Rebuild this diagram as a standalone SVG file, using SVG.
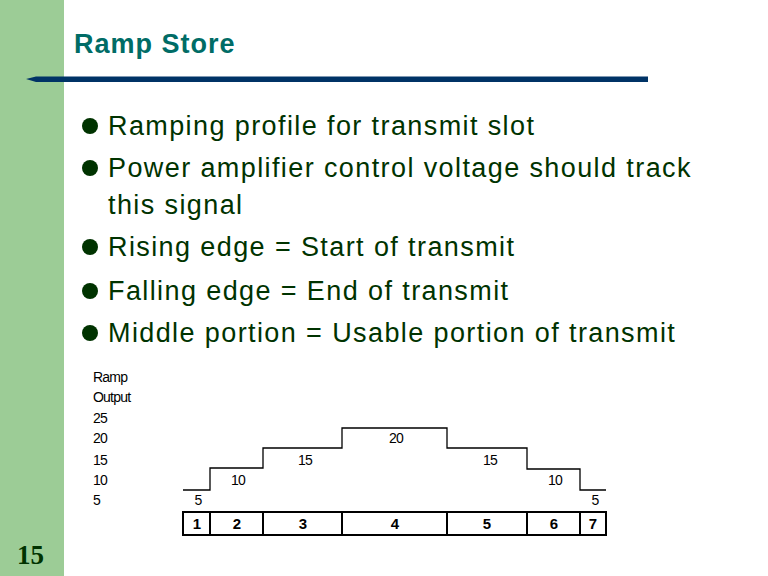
<svg xmlns="http://www.w3.org/2000/svg" width="768" height="576" viewBox="0 0 768 576">
<style>
.b{font-family:"Liberation Sans",Arial,sans-serif;font-size:27px;fill:#003300;letter-spacing:1.4px}
.s{font-family:"Liberation Sans",Arial,sans-serif;font-size:14px;fill:#000;letter-spacing:-0.8px}
.c{font-family:"Liberation Sans",Arial,sans-serif;font-size:14px;fill:#000;text-anchor:middle;letter-spacing:-0.8px}
.n{font-family:"Liberation Sans",Arial,sans-serif;font-size:15px;font-weight:bold;fill:#000;text-anchor:middle}
.dot{fill:#003300}
</style>
<rect width="768" height="576" fill="#fff"/>
<rect x="0" y="0" width="64" height="576" fill="#9ccc96"/>
<text x="74" y="53" font-family="Liberation Sans, Arial, sans-serif" font-size="27" font-weight="bold" fill="#006c66" letter-spacing="1">Ramp Store</text>
<polygon points="26,79 36,76.5 648,76.5 648,82 36,82" fill="#003366"/>
<text x="17" y="564" font-family="Liberation Serif, Times New Roman, serif" font-size="27" font-weight="bold" fill="#003300">15</text>
<g id="bullets">
<circle class="dot" cx="90" cy="126" r="8"/>
<text class="b" x="108" y="135">Ramping profile for transmit slot</text>
<circle class="dot" cx="90" cy="168" r="8"/>
<text class="b" x="108" y="177">Power amplifier control voltage should track</text>
<text class="b" x="108" y="214">this signal</text>
<circle class="dot" cx="90" cy="247" r="8"/>
<text class="b" x="108" y="256">Rising edge = Start of transmit</text>
<circle class="dot" cx="90" cy="291" r="8"/>
<text class="b" x="108" y="300">Falling edge = End of transmit</text>
<circle class="dot" cx="90" cy="333" r="8"/>
<text class="b" x="108" y="342">Middle portion = Usable portion of transmit</text>
</g>
<g id="axis">
<text class="s" x="93" y="382">Ramp</text>
<text class="s" x="93" y="402">Output</text>
<text class="s" x="93" y="423">25</text>
<text class="s" x="93" y="443">20</text>
<text class="s" x="93" y="465">15</text>
<text class="s" x="93" y="485">10</text>
<text class="s" x="93" y="505">5</text>
</g>
<g id="profile">
<polyline points="183,490 210,490 210,468 263,468 263,448 342,448 342,428 447,428 447,448 527,448 527,469 580,469 580,490 606,490" fill="none" stroke="#000" stroke-width="1.3"/>
<text class="c" x="198" y="505">5</text>
<text class="c" x="238" y="485">10</text>
<text class="c" x="305" y="465">15</text>
<text class="c" x="396" y="443">20</text>
<text class="c" x="490" y="465">15</text>
<text class="c" x="555" y="485">10</text>
<text class="c" x="595" y="505">5</text>
</g>
<g id="slots">
<rect x="183" y="512" width="423" height="23" fill="none" stroke="#000" stroke-width="2"/>
<path d="M210,512V535M263,512V535M342,512V535M447,512V535M527,512V535M580,512V535" stroke="#000" stroke-width="2"/>
<text class="n" x="197" y="529">1</text>
<text class="n" x="237" y="529">2</text>
<text class="n" x="303" y="529">3</text>
<text class="n" x="395" y="529">4</text>
<text class="n" x="487" y="529">5</text>
<text class="n" x="554" y="529">6</text>
<text class="n" x="593" y="529">7</text>
</g>
</svg>
